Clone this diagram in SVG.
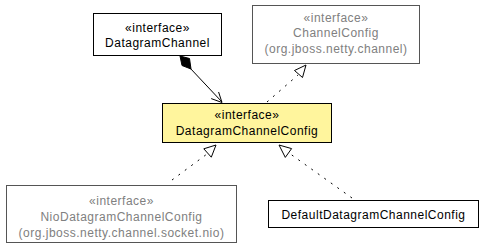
<svg xmlns="http://www.w3.org/2000/svg" width="484" height="248" viewBox="0 0 484 248">
<style>
text{font-family:"Liberation Sans",Arial,sans-serif;font-size:12px;letter-spacing:0.5px;text-anchor:middle;fill:#000}
.box{fill:#fff;stroke:#000;stroke-width:1}
.gbox{fill:#fff;stroke:#555;stroke-width:1}
.ybox{fill:#fff59d;stroke:#000;stroke-width:1}
.g text{fill:#808080}
.dot{fill:none;stroke:#000;stroke-width:1;stroke-dasharray:2,6}
.ln{fill:none;stroke:#000;stroke-width:1}
.tri{fill:#fff;stroke:#000;stroke-width:1}
</style>
<rect width="484" height="248" fill="#fff"/>
<g id="connectors">
<line class="ln" x1="190" y1="68" x2="222" y2="102"/>
<polygon points="180,56 189.5,58.5 191,69 182,65.5" fill="#000" stroke="#000"/>
<polyline class="ln" stroke-width="1.6" points="211.2,98.6 222,102.5 218.6,92"/>
<line class="dot" x1="267" y1="102" x2="298" y2="75"/>
<polygon class="tri" points="306,65 302.5,77.5 294.5,70.5"/>
<line class="dot" x1="172" y1="180" x2="207" y2="154"/>
<polygon class="tri" points="216,145 211.3,157.2 203.8,148.8"/>
<line class="dot" x1="352" y1="198" x2="289" y2="153"/>
<polygon class="tri" points="279,145 291.6,148.6 285.3,157.4"/>
</g>
<g id="DatagramChannel">
<rect class="box" x="93.5" y="13.5" width="128" height="42"/>
<text x="157.5" y="32">«interface»</text>
<text x="157.5" y="47">DatagramChannel</text>
</g>
<g id="ChannelConfig" class="g">
<rect class="gbox" x="252.5" y="5.5" width="167" height="58"/>
<text x="336" y="22">«interface»</text>
<text x="336" y="37">ChannelConfig</text>
<text x="336" y="53">(org.jboss.netty.channel)</text>
</g>
<g id="DatagramChannelConfig">
<rect class="ybox" x="162.5" y="103.5" width="169" height="39"/>
<text x="247" y="119">«interface»</text>
<text x="247" y="135">DatagramChannelConfig</text>
</g>
<g id="NioDatagramChannelConfig" class="g">
<rect class="gbox" x="6.5" y="185.5" width="230" height="57"/>
<text x="121.5" y="205">«interface»</text>
<text x="121.5" y="221">NioDatagramChannelConfig</text>
<text x="121.5" y="237">(org.jboss.netty.channel.socket.nio)</text>
</g>
<g id="DefaultDatagramChannelConfig">
<rect class="box" x="268.5" y="200.5" width="210" height="27"/>
<text x="373.5" y="219">DefaultDatagramChannelConfig</text>
</g>
</svg>
